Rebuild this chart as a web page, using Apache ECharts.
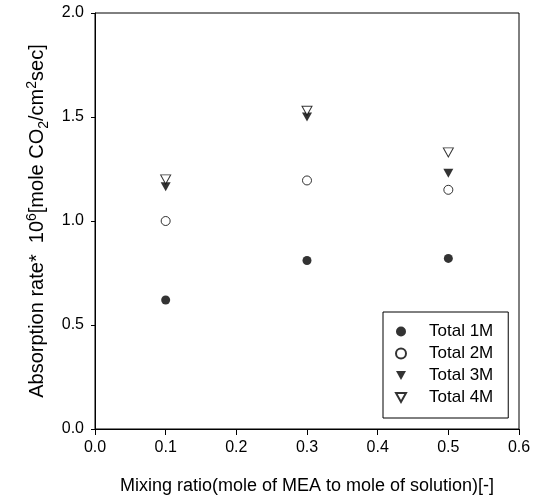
<!DOCTYPE html>
<html>
<head>
<meta charset="utf-8">
<script src="https://cdn.jsdelivr.net/npm/echarts@6/dist/echarts.min.js"></script>
<style>
  html, body { margin: 0; padding: 0; background: #fff; }
  #chart { width: 537px; height: 501px; }
</style>
</head>
<body>
<div id="chart"></div>
<script>
// mixing ratio (x) for every series
const mixRatio = [0.1, 0.3, 0.5]
// absorption rate * 10^6, one list per total concentration
const total1M = [0.62, 0.81, 0.82]
const total2M = [1.00, 1.195, 1.15]
const total3M = [1.165, 1.50, 1.23]
const total4M = [1.20, 1.53, 1.33]
const seriesNames = ['Total 1M', 'Total 2M', 'Total 3M', 'Total 4M']

const font = 'Liberation Sans, Arial, sans-serif'
// 아래로 향한 삼각형
const downTri = 'path://M0,0 L10,0 L5,9 Z'

function pts(ys) {
    return mixRatio.map((x, i) => [x, ys[i]])
}

let chart = echarts.init(document.getElementById('chart'))

chart.setOption({
    animation: false,
    grid: {
        left: 95,
        right: 18,
        top: 13,
        bottom: 72,
        show: true,
        borderColor: '#000',
        borderWidth: 1
    },
    xAxis: {
        type: 'value',
        min: 0,
        max: 0.6,
        interval: 0.1,
        name: 'Mixing ratio(mole of MEA to mole of solution)[-]',
        nameLocation: 'middle',
        nameGap: 48,
        nameTextStyle: { fontFamily: font, fontSize: 18, color: '#000' },
        axisLine: { lineStyle: { color: '#000', width: 1 } },
        axisTick: { length: 6, lineStyle: { color: '#000' } },
        axisLabel: {
            fontFamily: font, fontSize: 16, color: '#000', margin: 11,
            formatter: v => v.toFixed(1)
        },
        splitLine: { show: false }
    },
    yAxis: {
        type: 'value',
        min: 0,
        max: 2,
        interval: 0.5,
        name: '{n|Absorption rate*  10}{sup|6}{n|[mole CO}{sub|2}{n|/cm}{sup|2}{n|sec]}',
        nameLocation: 'middle',
        nameGap: 41,
        nameTextStyle: {
            fontFamily: font, fontSize: 20, color: '#000',
            rich: {
                n: { fontFamily: font, fontSize: 20, color: '#000', lineHeight: 26, verticalAlign: 'middle' },
                sup: { fontFamily: font, fontSize: 14, color: '#000', lineHeight: 26, verticalAlign: 'top' },
                sub: { fontFamily: font, fontSize: 14, color: '#000', lineHeight: 26, verticalAlign: 'bottom' }
            }
        },
        axisLine: { lineStyle: { color: '#000', width: 1 } },
        axisTick: { length: 4, lineStyle: { color: '#000' } },
        axisLabel: {
            fontFamily: font, fontSize: 16, color: '#000', margin: 11,
            formatter: v => v.toFixed(1)
        },
        splitLine: { show: false }
    },
    legend: {
        data: seriesNames,
        orient: 'vertical',
        left: 383,
        top: 312,
        padding: [11, 15, 12, 12],
        itemGap: 5,
        itemWidth: 10,
        itemHeight: 10,
        borderColor: '#000',
        borderWidth: 1,
        backgroundColor: '#fff',
        textStyle: { fontFamily: font, fontSize: 17, color: '#000', padding: [0, 0, 0, 18] }
    },
    series: [
        {
            name: seriesNames[0], type: 'scatter', data: pts(total1M),
            symbol: 'circle', symbolSize: 9,
            itemStyle: { color: '#000' }
        },
        {
            name: seriesNames[1], type: 'scatter', data: pts(total2M),
            symbol: 'circle', symbolSize: 9,
            itemStyle: { color: '#fff', borderColor: '#000', borderWidth: 1 }
        },
        {
            name: seriesNames[2], type: 'scatter', data: pts(total3M),
            symbol: downTri, symbolSize: [10, 9],
            itemStyle: { color: '#000' }
        },
        {
            name: seriesNames[3], type: 'scatter', data: pts(total4M),
            symbol: downTri, symbolSize: [10, 9],
            itemStyle: { color: '#fff', borderColor: '#000', borderWidth: 1 }
        }
    ]
})
</script>
</body>
</html>
